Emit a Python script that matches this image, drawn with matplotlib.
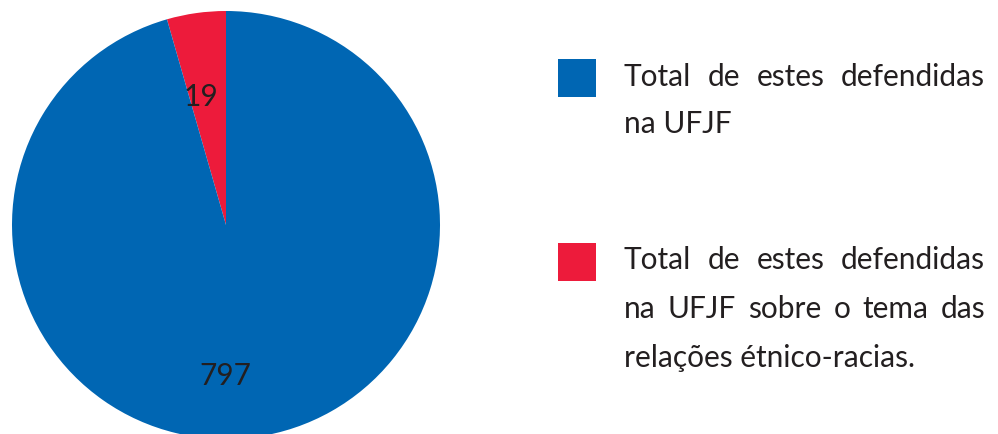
import matplotlib.pyplot as plt
from matplotlib.patches import Rectangle

plt.rcParams['font.family'] = ['Lato', 'DejaVu Sans']

# dados
contagens = [19, 797]                 # valores escritos no gráfico
fatias = [4.45, 95.55]                # fatia desenhada (%)
cores = ['#ED1B3B', '#0066B3']
legenda = [
    ["Total de estes defendidas", "na UFJF"],
    ["Total de estes defendidas", "na UFJF sobre o tema das", "relações étnico-racias."],
]
cores_legenda = ['#0066B3', '#ED1B3B']

W, H = 998, 434
cor_texto = '#231F20'

fig = plt.figure(figsize=(W / 100, H / 100), dpi=100)


def fx(x):
    return x / W


def fy(y):
    return 1 - y / H


# pizza: centro (226, 225) px, raio 214 px
ax = fig.add_axes([fx(226 - 214), fy(225 + 214), 428 / W, 428 / H])
ax.pie(fatias, colors=cores, startangle=90, counterclock=True, radius=1,
       wedgeprops=dict(linewidth=0))
ax.set_xlim(-1, 1)
ax.set_ylim(-1, 1)
ax.axis('off')

pos_rotulos = [(-0.119, 0.556), (-0.005, -0.748)]
for n, (x, y) in zip(contagens, pos_rotulos):
    ax.text(x, y, str(n), ha='center', va='baseline', fontsize=21.5, color=cor_texto)

# legenda com texto justificado
renderer = fig.canvas.get_renderer()
x0, x1 = 624, 985
topos = [59, 243]
linhas_base = [[86, 133], [269, 318, 367]]

for linhas, cor, topo, bases in zip(legenda, cores_legenda, topos, linhas_base):
    fig.add_artist(Rectangle((fx(558), fy(topo + 38)), 38 / W, 38 / H,
                             transform=fig.transFigure, color=cor, lw=0))
    for i, (linha, yb) in enumerate(zip(linhas, bases)):
        ultima = i == len(linhas) - 1
        if ultima:
            fig.text(fx(x0), fy(yb), linha, fontsize=21.5, color=cor_texto, va='baseline')
            continue
        palavras = linha.split()
        objs = [fig.text(fx(x0), fy(yb), p, fontsize=21.5, color=cor_texto, va='baseline')
                for p in palavras]
        larg = [o.get_window_extent(renderer).width for o in objs]
        gap = (x1 - x0 - sum(larg)) / (len(objs) - 1)
        x = x0
        for o, w in zip(objs, larg):
            o.set_x(fx(x))
            x += w + gap

fig.savefig('out.png', dpi=100)
